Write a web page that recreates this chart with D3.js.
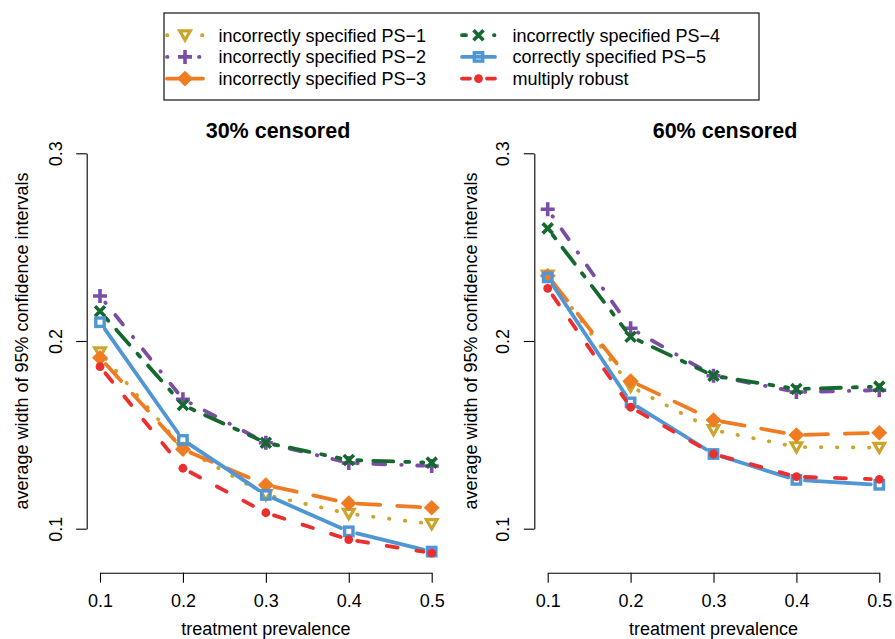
<!DOCTYPE html>
<html>
<head>
<meta charset="utf-8">
<script src="https://cdn.jsdelivr.net/npm/d3@7"></script>
<style>
  html, body { margin: 0; padding: 0; background: #ffffff; }
  svg { display: block; font-family: "Liberation Sans", Arial, Helvetica, sans-serif; }
</style>
</head>
<body>
<svg id="chart" width="895" height="639"></svg>
<script>
// Treatment prevalence levels on the x axis
const prevalence = [0.1, 0.2, 0.3, 0.4, 0.5];
const xTicks = [0.1, 0.2, 0.3, 0.4, 0.5];
const yTicks = [0.1, 0.2, 0.3];

const seriesNames = [
  "incorrectly specified PS\u22121",
  "incorrectly specified PS\u22122",
  "incorrectly specified PS\u22123",
  "incorrectly specified PS\u22124",
  "correctly specified PS\u22125",
  "multiply robust"
];
const panelTitles = ["30% censored", "60% censored"];

// Average width of 95% confidence intervals, 30% censoring
const ps1_30 = [0.194, 0.143, 0.118, 0.108, 0.1025];
const ps2_30 = [0.224, 0.169, 0.1458, 0.1350, 0.1334];
const ps3_30 = [0.1911, 0.1423, 0.1233, 0.1136, 0.1112];
const ps4_30 = [0.2158, 0.1659, 0.1458, 0.1366, 0.1352];
const ps5_30 = [0.210, 0.1473, 0.118, 0.0986, 0.0878];
const mr_30  = [0.1863, 0.1322, 0.1085, 0.0942, 0.0870];

// Average width of 95% confidence intervals, 60% censoring
const ps1_60 = [0.235, 0.1757, 0.1526, 0.1435, 0.1432];
const ps2_60 = [0.2702, 0.2068, 0.1815, 0.1728, 0.1738];
const ps3_60 = [0.2348, 0.1787, 0.1579, 0.1499, 0.1511];
const ps4_60 = [0.2600, 0.2023, 0.1815, 0.1744, 0.1757];
const ps5_60 = [0.2339, 0.1673, 0.1398, 0.1260, 0.1234];
const mr_60  = [0.2280, 0.1647, 0.1398, 0.1277, 0.1263];

// Styles per series
const colors = ["#CBA52C", "#7A4EA6", "#EF7B22", "#15692F", "#5096D4", "#EB2E2E"];
const dashes = ["0.5,15.5", "0.5,15.5,12,16", "23,17", "4,12,20,12", null, "11,19"];
const legendDashes = ["0.5,34.5,0.5,40", "0.5,31.5,0.5,40", null, "4,28,0.5,40", null, "8,17,8,40"];
const markers = ["triDown", "plus", "diamond", "cross", "square", "dot"];

const panels = [
  { title: panelTitles[0], series: [ps1_30, ps2_30, ps3_30, ps4_30, ps5_30, mr_30],
    xRange: [100, 431.7], titleX: 278, axisX: 86.7, yTitleX: 28 },
  { title: panelTitles[1], series: [ps1_60, ps2_60, ps3_60, ps4_60, ps5_60, mr_60],
    xRange: [547.7, 879.3], titleX: 725, axisX: 534.3, yTitleX: 477 }
];

const svg = d3.select("#chart");
const yScale = d3.scaleLinear().domain([0.1, 0.3]).range([528.7, 153.3]);
const xAxisY = 572.7;
const lineW = 3.8;
const gap = 8.5;

function drawMarker(g, type, cx, cy, color) {
  if (type === "triDown") {
    g.append("path")
      .attr("d", `M${cx - 5.3},${cy - 4.3}L${cx + 5.3},${cy - 4.3}L${cx},${cy + 4.8}Z`)
      .attr("fill", "none").attr("stroke", color).attr("stroke-width", 3.2)
      .attr("stroke-linejoin", "miter");
  } else if (type === "plus") {
    g.append("path")
      .attr("d", `M${cx - 7},${cy}L${cx + 7},${cy}M${cx},${cy - 7}L${cx},${cy + 7}`)
      .attr("stroke", color).attr("stroke-width", 3.6).attr("fill", "none");
  } else if (type === "cross") {
    g.append("path")
      .attr("d", `M${cx - 5},${cy - 5}L${cx + 5},${cy + 5}M${cx - 5},${cy + 5}L${cx + 5},${cy - 5}`)
      .attr("stroke", color).attr("stroke-width", 3.6).attr("fill", "none");
  } else if (type === "diamond") {
    g.append("path")
      .attr("d", `M${cx},${cy - 7.8}L${cx + 8},${cy}L${cx},${cy + 7.8}L${cx - 8},${cy}Z`)
      .attr("fill", color);
  } else if (type === "square") {
    g.append("rect")
      .attr("x", cx - 4.2).attr("y", cy - 4.2).attr("width", 8.4).attr("height", 8.4)
      .attr("fill", "none").attr("stroke", color).attr("stroke-width", 3.4);
  } else if (type === "dot") {
    g.append("circle").attr("cx", cx).attr("cy", cy).attr("r", 4.4).attr("fill", color);
  }
}

panels.forEach(p => {
  const xScale = d3.scaleLinear().domain([0.1, 0.5]).range(p.xRange);
  const g = svg.append("g");

  // x axis
  const xAxis = g.append("g")
    .attr("transform", `translate(0,${xAxisY})`)
    .call(d3.axisBottom(xScale).tickValues(xTicks).tickFormat(d3.format(".1f"))
      .tickSize(10).tickSizeOuter(0));
  xAxis.select(".domain").attr("stroke", "#000").attr("stroke-width", 1.1);
  xAxis.selectAll(".tick line").attr("stroke", "#000").attr("stroke-width", 1.1);
  xAxis.selectAll(".tick text")
    .attr("y", 34.6).attr("dy", null)
    .attr("font-size", 18).attr("fill", "#000")
    .attr("font-family", "Liberation Sans, Arial, sans-serif");

  // y axis
  const yAxis = g.append("g")
    .attr("transform", `translate(${p.axisX},0)`)
    .call(d3.axisLeft(yScale).tickValues(yTicks).tickFormat(d3.format(".1f"))
      .tickSize(10.5).tickSizeOuter(0));
  yAxis.select(".domain").attr("stroke", "#000").attr("stroke-width", 1.1);
  yAxis.selectAll(".tick line").attr("stroke", "#000").attr("stroke-width", 1.1);
  yAxis.selectAll(".tick text")
    .attr("x", null).attr("dy", null)
    .attr("transform", "translate(-25,0) rotate(-90)")
    .attr("text-anchor", "middle")
    .attr("font-size", 18).attr("fill", "#000")
    .attr("font-family", "Liberation Sans, Arial, sans-serif");

  // axis titles
  g.append("text")
    .attr("x", (p.xRange[0] + p.xRange[1]) / 2).attr("y", 634.5)
    .attr("text-anchor", "middle").attr("font-size", 18).attr("fill", "#000")
    .text("treatment prevalence");
  g.append("text")
    .attr("transform", `translate(${p.yTitleX},341) rotate(-90)`)
    .attr("text-anchor", "middle").attr("font-size", 18).attr("fill", "#000")
    .text("average width of 95% confidence intervals");

  // panel title
  g.append("text")
    .attr("x", p.titleX).attr("y", 138.3)
    .attr("text-anchor", "middle").attr("font-size", 21.5).attr("font-weight", "bold")
    .attr("fill", "#000")
    .text(p.title);

  // series: line segments with gaps around points, then markers
  p.series.forEach((vals, si) => {
    const pts = prevalence.map((x, i) => [xScale(x), yScale(vals[i])]);
    const sg = g.append("g");
    for (let i = 0; i < pts.length - 1; i++) {
      const [x0, y0] = pts[i], [x1, y1] = pts[i + 1];
      const L = Math.hypot(x1 - x0, y1 - y0);
      if (L <= 2 * gap) continue;
      const ux = (x1 - x0) / L, uy = (y1 - y0) / L;
      const seg = [[x0 + ux * gap, y0 + uy * gap], [x1 - ux * gap, y1 - uy * gap]];
      sg.append("path")
        .attr("d", d3.line()(seg))
        .attr("fill", "none").attr("stroke", colors[si])
        .attr("stroke-width", lineW).attr("stroke-linecap", "round")
        .attr("stroke-dasharray", dashes[si]);
    }
    pts.forEach(([cx, cy]) => drawMarker(sg, markers[si], cx, cy, colors[si]));
  });
});

// legend
const legend = svg.append("g");
legend.append("rect")
  .attr("x", 164).attr("y", 13).attr("width", 595).attr("height", 87)
  .attr("fill", "#fff").attr("stroke", "#111").attr("stroke-width", 1.2);

const legCols = [{ x0: 167, x1: 203, mx: 185, tx: 218.5 }, { x0: 462, x1: 495, mx: 478.5, tx: 512.5 }];
const legRows = [41.6, 63.3, 85];
seriesNames.forEach((name, i) => {
  const col = legCols[Math.floor(i / 3)];
  const baseY = legRows[i % 3];
  const cy = baseY - 6.4;
  legend.append("path")
    .attr("d", d3.line()([[col.x0, cy], [col.x1, cy]]))
    .attr("fill", "none").attr("stroke", colors[i])
    .attr("stroke-width", lineW).attr("stroke-linecap", "round")
    .attr("stroke-dasharray", legendDashes[i]);
  drawMarker(legend, markers[i], col.mx, cy, colors[i]);
  legend.append("text")
    .attr("x", col.tx).attr("y", baseY)
    .attr("font-size", 18).attr("fill", "#000")
    .text(name);
});
</script>
</body>
</html>
